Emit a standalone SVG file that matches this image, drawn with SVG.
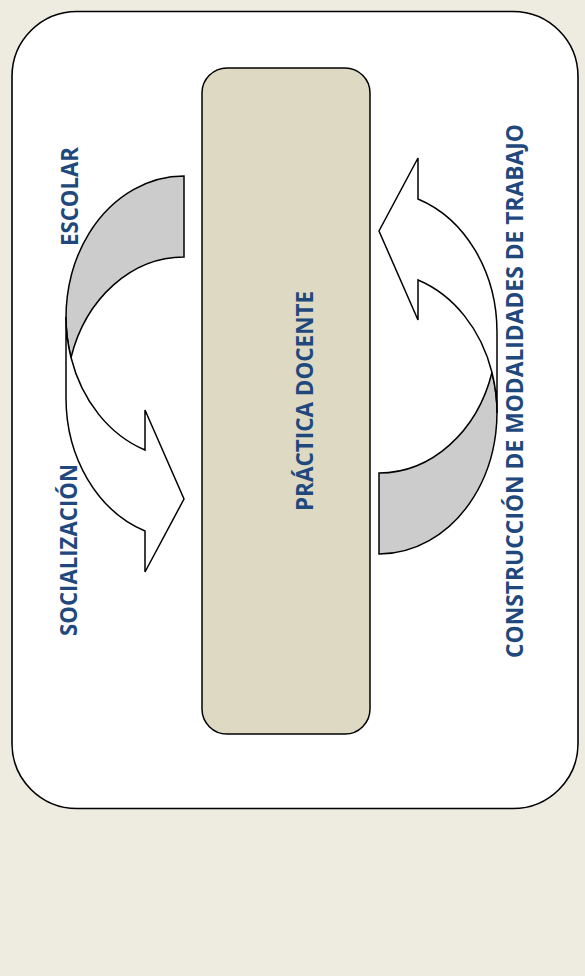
<svg xmlns="http://www.w3.org/2000/svg" width="585" height="976" viewBox="0 0 585 976">
<style>
.bg{fill:#eeece1}
.frame{fill:#ffffff;stroke:#000;stroke-width:1.6}
.box{fill:#ddd9c3;stroke:#000;stroke-width:1.5}
.back{fill:#cccccc;stroke:#000;stroke-width:1.5;stroke-linejoin:miter}
.front{fill:#ffffff;stroke:#000;stroke-width:1.5;stroke-linejoin:miter}
.lbl{font-family:"Open Sans","Liberation Sans",sans-serif;font-weight:bold;font-size:24px;fill:#1f497d;text-anchor:middle}
</style>
<defs>
<g id="curvedArrow">
<path class="back" d="M184,176 A118,141 0 0 0 71,357.5 A118,141 0 0 1 184,257 Z"/>
<path class="front" d="M71,357.5 A118,141 0 0 0 145,450 L145,410 L184,499 L145,572 L145,531 A118,141 0 0 1 66,398 L66,317 A118,141 0 0 0 71,357.5 Z"/>
</g>
</defs>
<rect class="bg" x="0" y="0" width="585" height="976"/>
<g id="frame">
<rect class="frame" x="12" y="11.5" width="566" height="797" rx="65" ry="65"/>
</g>
<g id="practica-docente">
<rect class="box" x="202" y="68" width="168" height="666" rx="25" ry="25"/>
<text class="lbl" transform="translate(313,401) rotate(-90)" textLength="220" lengthAdjust="spacingAndGlyphs">PRÁCTICA DOCENTE</text>
</g>
<g id="connectors">
<g id="arrow-left"><use href="#curvedArrow"/></g>
<g id="arrow-right"><use href="#curvedArrow" transform="rotate(180 281.5 365)"/></g>
</g>
<g id="label-escolar">
<text class="lbl" transform="translate(78,196.5) rotate(-90)" textLength="99" lengthAdjust="spacingAndGlyphs">ESCOLAR</text>
</g>
<g id="label-socializacion">
<text class="lbl" transform="translate(77,550) rotate(-90)" textLength="172" lengthAdjust="spacingAndGlyphs">SOCIALIZACIÓN</text>
</g>
<g id="label-construccion">
<text class="lbl" transform="translate(523,391) rotate(-90)" textLength="534" lengthAdjust="spacingAndGlyphs">CONSTRUCCIÓN DE MODALIDADES DE TRABAJO</text>
</g>
</svg>
